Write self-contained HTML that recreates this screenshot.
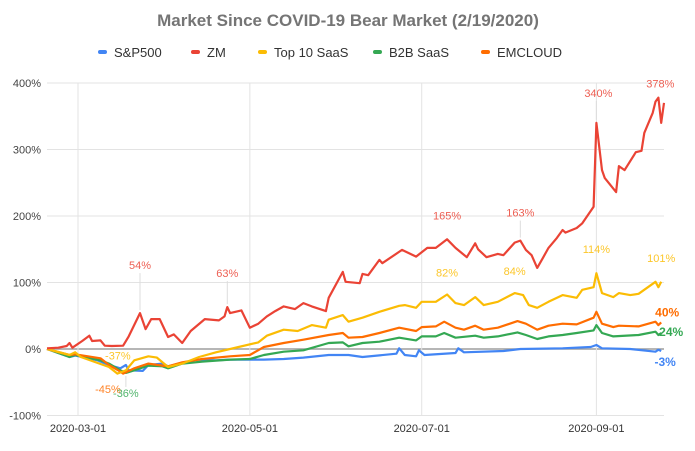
<!DOCTYPE html>
<html><head><meta charset="utf-8"><style>
body{margin:0;background:#fff;font-family:"Liberation Sans",Arial,sans-serif}
svg{display:block}
</style></head><body>
<svg id="chart" width="695" height="451" viewBox="0 0 695 451" xmlns="http://www.w3.org/2000/svg">
<text x="348" y="26" text-anchor="middle" font-size="17" font-weight="bold" fill="#757575">Market Since COVID-19 Bear Market (2/19/2020)</text>
<g id="legend"></g>
<g id="grid"></g>
<g id="series"></g>
<g id="labels"></g>
</svg>
<script>
const yTicks=[400,300,200,100,0,-100];
const xTickDays=[11,72,133,195];
const xTickLabels=["2020-03-01","2020-05-01","2020-07-01","2020-09-01"];
const seriesNames=["S&P500","ZM","Top 10 SaaS","B2B SaaS","EMCLOUD"];
const seriesColors=["#4285f4","#ea4335","#fbbc04","#34a853","#ff6d01"];
const spDays=[0,8,10,18,22,26,28,29,34,36,41,43,48,53,60,65,77,84,91,100,107,112,124,125,127,131,132,134,145,146,148,162,168,183,193,195,197,207,216,217,218];
const spVals=[0,-12,-10,-17,-24,-29,-24,-32,-33,-24,-22,-26,-21,-16,-17,-16,-16,-15,-13,-9,-9,-12,-7,1,-9,-11,-2,-9,-6,1,-5,-3,0,1,3,6,1,0,-4,-1,-3];
const zmDays=[0,4,7,8,9,12.5,15,16,19,20.5,23,27,29,33,35,37,40,43,45,48,51,56,61,63,64,65,69,72,75,78,81,84,88,91,94,99,100,105,106,111,112,114,118,119,126,131,135,138,142,145,149,152,153,156,160,162,166,168,170,172,174,176,178,181,183,184,188,190,194,195,197,198,202,203,205,209,211,212,215,216,217,218,219];
const zmVals=[1,2,4.5,9,2,12,20,12,13,5,4.5,5,19,54,30,45,45,18,22,9,27,45,43,49,63,54,58,32,38,49,57,64,60,69,64,57,77,116,101,99,113,111,134,129,149,139,152,152,165,152,138,159,150,138,143,141,160,163,149,141,122,137,152,167,179,175,182,189,214,340,269,257,236,275,269,296,298,325,355,372,378,340,370];
const topDays=[0,8,10,12,22,25,28,31,36,39,43,48,54,60,68,75,78,84,89,94,99,100,105,107,112,118,125,127,131,133,138,142,145,148,152,155,160,166,169,171,174,178,183,188,190,194,195,197,201,203,207,210,216,217,218];
const topVals=[0,-9,-5,-12,-27,-37,-32,-17,-11,-13,-27,-22,-12,-5,3,10,20,29,27,36,32,44,51,41,47,56,65,66,62,71,71,82,69,66,78,66,71,84,81,66,62,71,81,77,89,93,114,84,78,84,81,83,101,93,101];
const b2bDays=[0,8,10,19,22,26,28,31,36,41,43,48,55,65,72,77,84,91,100,105,107,112,118,125,131,133,138,141,145,152,155,160,167,170,174,178,183,188,194,195,197,201,210,216,217,218];
const b2bVals=[0,-12,-9,-17,-22,-32,-36,-32,-25,-26,-29,-22,-19,-16,-15,-9,-4,-2,9,10,4,9,11,17,13,19,19,24,17,20,17,19,25,21,15,19,21,24,28,36,24,19,21,26,21,24];
const emDays=[0,8,10,19,22,26,27,31,36,41,43,48,55,65,72,77,84,91,100,105,107,112,118,125,131,133,138,141,145,148,152,155,160,167,170,174,178,183,188,194,195,197,201,203,210,216,217,218];
const emVals=[0,-9,-8,-14,-24,-34,-37,-29,-22,-25,-26,-20,-15,-11,-9,3,9,14,21,24,17,18,24,32,27,33,34,41,32,29,35,29,32,42,38,29,35,38,37,47,56,38,33,35,34,41,36,40];
const annText=["54%","63%","165%","163%","340%","378%","82%","84%","114%","101%","-37%","-45%","-36%","40%","24%","-3%"];
const annSeries=[1,1,1,1,1,1,2,2,2,2,2,4,3,4,3,0];
const annDay=[33,64,142,168,195,217,142,166,195,218,28,22,28,218,218,218];
const annVal=[54,63,165,163,340,378,82,84,114,101,-37,-45,-36,40,24,-3];

const X0=47,X1=664,Dmax=219;
const x=d=>X0+(X1-X0)*d/Dmax;
const y=v=>349-v*0.665;
const NS="http://www.w3.org/2000/svg";
function mk(tag,attrs,parent,text){const e=document.createElementNS(NS,tag);for(const k in attrs)e.setAttribute(k,attrs[k]);if(text!==undefined)e.textContent=text;parent.appendChild(e);return e;}
const grid=document.getElementById('grid');
yTicks.forEach(v=>{
  const l=mk('line',{x1:X0,x2:X1,y1:y(v),y2:y(v),stroke:v===0?'#9e9e9e':'#e3e3e3','stroke-width':v===0?1.5:1},grid);
  
  
  const t=mk('text',{x:41,y:y(v)+4,'text-anchor':'end','font-size':11,fill:'#444'},grid,v+'%');
  
  
});
xTickDays.forEach((d,i)=>{
  const l=mk('line',{x1:x(d),x2:x(d),y1:y(400),y2:y(-100),stroke:'#e3e3e3','stroke-width':1},grid);
  
  
  const t=mk('text',{x:x(d),y:432,'text-anchor':'middle','font-size':11,fill:'#333'},grid,xTickLabels[i]);
  
  
});
const sDays=[spDays,zmDays,topDays,b2bDays,emDays];
const sVals=[spVals,zmVals,topVals,b2bVals,emVals];
const sg=document.getElementById('series');
[0,3,4,2,1].forEach(i=>{
  const pts=sDays[i].map((d,j)=>x(d).toFixed(1)+','+y(sVals[i][j]).toFixed(1)).join(' ');
  const p=mk('polyline',{points:pts,fill:'none',stroke:seriesColors[i],'stroke-width':2.2,'stroke-linejoin':'round'},sg);
  
  
});
const lg=document.getElementById('labels');
const offs={"54%":[0,-44],"63%":[0,-30],"165%":[0,-20],"163%":[0,-24],"340%":[2,-26],"378%":[2,-10],"82%":[0,-18],"84%":[0,-18],"114%":[0,-20],"101%":[0,-20],"-37%":[-8,-14],"-45%":[-1,14],"-36%":[0,24],"40%":[6,-6],"24%":[10,3],"-3%":[4,15]};
annText.forEach((s,i)=>{
  const px=x(annDay[i]),py=y(annVal[i]);const o=offs[s];
  const bold=(i>=13);
  if(!bold&&Math.abs(o[1])>22){const ln=mk('line',{x1:px,x2:px,y1:py+(o[1]<0?-3:3),y2:py+o[1]+(o[1]<0?4:-10),stroke:'#ddd','stroke-width':1},lg);
    
    }
  const c=seriesColors[annSeries[i]];
  const t=mk('text',{x:px+o[0],y:py+o[1],'text-anchor':'middle','font-size':bold?12:11,'font-weight':bold?'bold':'normal',fill:c,'fill-opacity':bold?1:0.85},lg,s);
  
  
});
const leg=document.getElementById('legend');
const legX=[98,191,258,373,481];
seriesNames.forEach((n,i)=>{
  const r=mk('rect',{x:legX[i],y:50,width:9,height:4,rx:2,fill:seriesColors[i]},leg);
  
  
  const t=mk('text',{x:legX[i]+16,y:57,'font-size':13,fill:'#333'},leg,n);
  
  
});
</script>
</body></html>
